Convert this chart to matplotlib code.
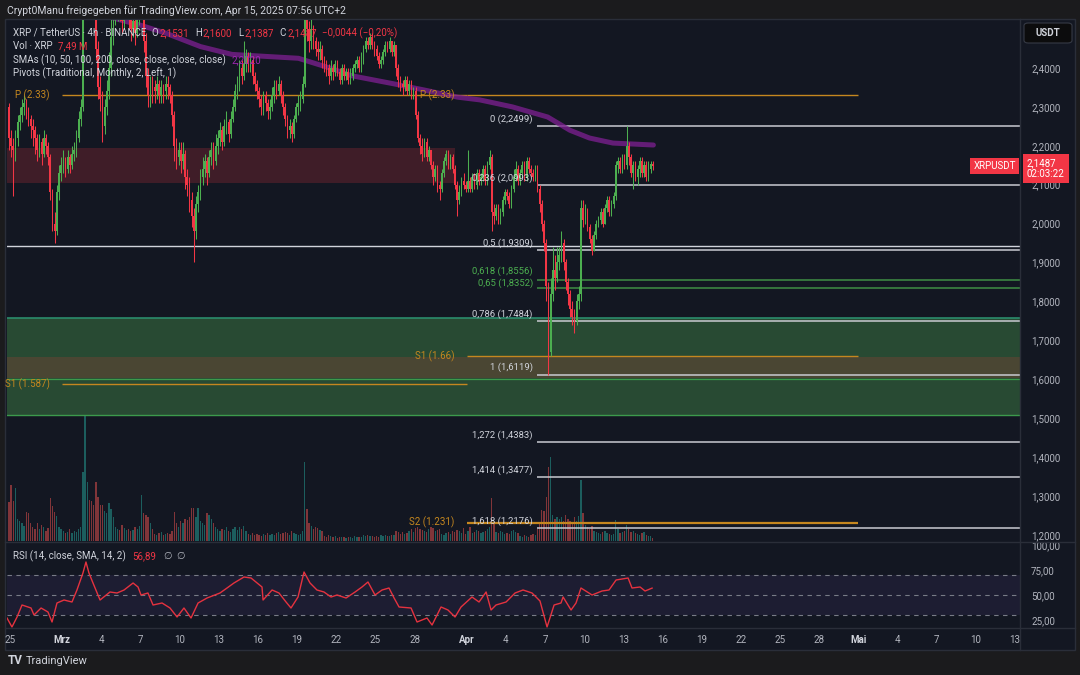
import matplotlib
matplotlib.use("Agg")
import matplotlib.pyplot as plt
from matplotlib.lines import Line2D
from matplotlib.patches import Rectangle, FancyBboxPatch
from matplotlib.colors import to_rgba
import numpy as np
import pandas as pd

plt.rcParams['font.family'] = ['Roboto', 'DejaVu Sans']

# ---------------- data ----------------
first_open = 2.30
closes = [
    2.22,                                   # Feb 24 22:00
    2.20, 2.19, 2.22, 2.26, 2.28, 2.30,     # Feb 25
    2.31, 2.29, 2.27, 2.25, 2.24, 2.22,     # Feb 26
    2.19, 2.21, 2.18, 2.22, 2.20, 2.17,     # Feb 27
    2.08, 2.00, 1.98, 2.08, 2.13, 2.15,     # Feb 28
    2.16, 2.14, 2.17, 2.15, 2.18, 2.19,     # Mar 1
    2.22, 2.27, 2.30, 2.75, 2.85, 2.88,     # Mar 2
    2.82, 2.70, 2.62, 2.45, 2.35, 2.32,     # Mar 3
    2.25, 2.30, 2.34, 2.40, 2.48, 2.55,     # Mar 4
    2.55, 2.58, 2.54, 2.52, 2.56, 2.57,     # Mar 5
    2.53, 2.50, 2.52, 2.49, 2.53, 2.55,     # Mar 6
    2.58, 2.47, 2.38, 2.33, 2.36, 2.35,     # Mar 7
    2.34, 2.36, 2.33, 2.35, 2.34, 2.36,     # Mar 8
    2.35, 2.33, 2.28, 2.20, 2.17, 2.19,     # Mar 9
    2.16, 2.18, 2.12, 2.10, 2.06, 2.02,     # Mar 10
    1.98, 2.05, 2.08, 2.12, 2.14, 2.16,     # Mar 11
    2.13, 2.17, 2.19, 2.16, 2.20, 2.22,     # Mar 12
    2.24, 2.21, 2.25, 2.26, 2.23, 2.27,     # Mar 13
    2.30, 2.34, 2.36, 2.40, 2.38, 2.41,     # Mar 14
    2.43, 2.41, 2.42, 2.38, 2.36, 2.34,     # Mar 15
    2.32, 2.30, 2.33, 2.31, 2.29, 2.30,     # Mar 16
    2.33, 2.35, 2.34, 2.36, 2.33, 2.30,     # Mar 17
    2.27, 2.24, 2.25, 2.23, 2.27, 2.30,     # Mar 18
    2.31, 2.32, 2.36, 2.55, 2.50, 2.47,     # Mar 19
    2.50, 2.47, 2.45, 2.44, 2.45, 2.42,     # Mar 20
    2.41, 2.40, 2.38, 2.40, 2.39, 2.41,     # Mar 21
    2.39, 2.37, 2.40, 2.38, 2.39, 2.37,     # Mar 22
    2.38, 2.40, 2.41, 2.42, 2.40, 2.42,     # Mar 23
    2.45, 2.47, 2.46, 2.48, 2.46, 2.45,     # Mar 24
    2.43, 2.41, 2.42, 2.44, 2.46, 2.45,     # Mar 25
    2.47, 2.44, 2.46, 2.40, 2.37, 2.36,     # Mar 26
    2.35, 2.37, 2.34, 2.36, 2.33, 2.34,     # Mar 27
    2.28, 2.22, 2.20, 2.18, 2.21, 2.17,     # Mar 28
    2.19, 2.15, 2.12, 2.14, 2.10, 2.09,     # Mar 29
    2.13, 2.16, 2.18, 2.15, 2.17, 2.14,     # Mar 30
    2.10, 2.06, 2.08, 2.11, 2.10, 2.09,     # Mar 31
    2.11, 2.09, 2.12, 2.10, 2.13, 2.11,     # Apr 1
    2.12, 2.14, 2.11, 2.15, 2.17, 2.03,     # Apr 2
    2.02, 2.04, 2.01, 2.03, 2.06, 2.08,     # Apr 3
    2.07, 2.05, 2.09, 2.12, 2.14, 2.11,     # Apr 4
    2.13, 2.15, 2.12, 2.16, 2.14, 2.13,     # Apr 5
    2.12, 2.14, 2.09, 2.05, 2.00, 1.95,     # Apr 6
    1.84, 1.67, 1.82, 1.88, 1.86, 1.90,     # Apr 7
    1.92, 1.95, 1.90, 1.85, 1.82, 1.78,     # Apr 8
    1.76, 1.75, 1.80, 1.82, 2.04, 2.01,     # Apr 9
    2.03, 1.99, 1.96, 1.93, 1.97, 2.00,     # Apr 10
    2.01, 2.03, 2.00, 2.04, 2.06, 2.03,     # Apr 11
    2.05, 2.07, 2.15, 2.16, 2.14, 2.17,     # Apr 12
    2.15, 2.20, 2.17, 2.13, 2.15, 2.12,     # Apr 13
    2.14, 2.16, 2.13, 2.15, 2.12, 2.14,     # Apr 14
    2.1531, 2.1487,                         # Apr 15
]
highs = [
    2.31,
    2.24, 2.22, 2.24, 2.28, 2.30, 2.32,     # Feb 25
    2.33, 2.32, 2.30, 2.28, 2.27, 2.25,     # Feb 26
    2.23, 2.23, 2.22, 2.24, 2.23, 2.21,     # Feb 27
    2.18, 2.09, 2.03, 2.10, 2.15, 2.17,     # Feb 28
    2.19, 2.17, 2.19, 2.18, 2.20, 2.21,     # Mar 1
    2.24, 2.29, 2.32, 2.80, 2.95, 2.99,     # Mar 2
    2.92, 2.84, 2.73, 2.64, 2.47, 2.38,     # Mar 3
    2.34, 2.32, 2.37, 2.44, 2.53, 2.58,     # Mar 4
    2.60, 2.61, 2.59, 2.56, 2.58, 2.60,     # Mar 5
    2.58, 2.54, 2.55, 2.53, 2.56, 2.58,     # Mar 6
    2.62, 2.60, 2.49, 2.40, 2.38, 2.38,     # Mar 7
    2.37, 2.38, 2.37, 2.37, 2.36, 2.38,     # Mar 8
    2.38, 2.36, 2.34, 2.29, 2.22, 2.21,     # Mar 9
    2.21, 2.21, 2.19, 2.14, 2.12, 2.08,     # Mar 10
    2.04, 2.07, 2.10, 2.14, 2.17, 2.18,     # Mar 11
    2.17, 2.19, 2.21, 2.21, 2.23, 2.24,     # Mar 12
    2.26, 2.25, 2.27, 2.29, 2.27, 2.29,     # Mar 13
    2.32, 2.36, 2.38, 2.42, 2.42, 2.47,     # Mar 14
    2.45, 2.44, 2.44, 2.43, 2.39, 2.37,     # Mar 15
    2.35, 2.33, 2.34, 2.34, 2.32, 2.32,     # Mar 16
    2.35, 2.37, 2.37, 2.38, 2.37, 2.34,     # Mar 17
    2.31, 2.28, 2.27, 2.26, 2.28, 2.31,     # Mar 18
    2.33, 2.34, 2.38, 2.59, 2.58, 2.52,     # Mar 19
    2.53, 2.51, 2.48, 2.47, 2.47, 2.46,     # Mar 20
    2.43, 2.42, 2.41, 2.42, 2.41, 2.42,     # Mar 21
    2.42, 2.40, 2.41, 2.41, 2.40, 2.40,     # Mar 22
    2.40, 2.41, 2.42, 2.43, 2.43, 2.44,     # Mar 23
    2.46, 2.48, 2.48, 2.49, 2.49, 2.47,     # Mar 24
    2.46, 2.44, 2.43, 2.45, 2.47, 2.47,     # Mar 25
    2.48, 2.47, 2.47, 2.46, 2.41, 2.38,     # Mar 26
    2.37, 2.38, 2.38, 2.37, 2.37, 2.35,     # Mar 27
    2.35, 2.29, 2.23, 2.22, 2.22, 2.22,     # Mar 28
    2.20, 2.19, 2.16, 2.15, 2.15, 2.11,     # Mar 29
    2.14, 2.17, 2.19, 2.19, 2.18, 2.18,     # Mar 30
    2.15, 2.11, 2.10, 2.12, 2.13, 2.11,     # Mar 31
    2.19, 2.12, 2.13, 2.13, 2.14, 2.14,     # Apr 1
    2.13, 2.15, 2.15, 2.16, 2.19, 2.18,     # Apr 2
    2.05, 2.05, 2.05, 2.04, 2.07, 2.09,     # Apr 3
    2.09, 2.08, 2.10, 2.14, 2.16, 2.15,     # Apr 4
    2.14, 2.16, 2.16, 2.17, 2.17, 2.15,     # Apr 5
    2.14, 2.15, 2.15, 2.10, 2.06, 2.01,     # Apr 6
    1.96, 1.85, 1.86, 1.94, 1.92, 1.94,     # Apr 7
    1.94, 1.98, 1.96, 1.91, 1.86, 1.83,     # Apr 8
    1.80, 1.78, 1.82, 1.84, 2.06, 2.06,     # Apr 9
    2.05, 2.04, 2.00, 1.97, 1.98, 2.01,     # Apr 10
    2.02, 2.04, 2.04, 2.05, 2.07, 2.07,     # Apr 11
    2.06, 2.08, 2.16, 2.17, 2.17, 2.18,     # Apr 12
    2.18, 2.25, 2.21, 2.18, 2.16, 2.16,     # Apr 13
    2.15, 2.17, 2.17, 2.16, 2.16, 2.16,     # Apr 14
    2.16, 2.16,                             # Apr 15
]
lows = [
    2.19,
    2.17, 2.07, 2.16, 2.20, 2.24, 2.26,     # Feb 25
    2.28, 2.27, 2.25, 2.22, 2.20, 2.18,     # Feb 26
    2.16, 2.17, 2.15, 2.17, 2.18, 2.15,     # Feb 27
    2.06, 1.98, 1.95, 1.97, 2.06, 2.11,     # Feb 28
    2.13, 2.12, 2.13, 2.13, 2.14, 2.16,     # Mar 1
    2.17, 2.21, 2.25, 2.29, 2.72, 2.80,     # Mar 2
    2.78, 2.66, 2.58, 2.42, 2.32, 2.29,     # Mar 3
    2.21, 2.23, 2.28, 2.32, 2.38, 2.46,     # Mar 4
    2.51, 2.52, 2.52, 2.49, 2.50, 2.54,     # Mar 5
    2.50, 2.47, 2.48, 2.46, 2.48, 2.51,     # Mar 6
    2.53, 2.44, 2.35, 2.30, 2.30, 2.31,     # Mar 7
    2.31, 2.32, 2.31, 2.31, 2.31, 2.32,     # Mar 8
    2.32, 2.31, 2.25, 2.16, 2.14, 2.15,     # Mar 9
    2.13, 2.14, 2.09, 2.07, 2.03, 1.99,     # Mar 10
    1.90, 1.96, 2.03, 2.06, 2.10, 2.12,     # Mar 11
    2.10, 2.12, 2.15, 2.14, 2.15, 2.18,     # Mar 12
    2.20, 2.19, 2.20, 2.23, 2.21, 2.22,     # Mar 13
    2.26, 2.29, 2.32, 2.34, 2.36, 2.37,     # Mar 14
    2.39, 2.39, 2.39, 2.36, 2.34, 2.32,     # Mar 15
    2.30, 2.28, 2.28, 2.29, 2.27, 2.27,     # Mar 16
    2.29, 2.31, 2.32, 2.33, 2.31, 2.28,     # Mar 17
    2.25, 2.22, 2.22, 2.21, 2.22, 2.26,     # Mar 18
    2.28, 2.29, 2.31, 2.35, 2.47, 2.44,     # Mar 19
    2.45, 2.45, 2.43, 2.42, 2.42, 2.40,     # Mar 20
    2.39, 2.38, 2.36, 2.37, 2.37, 2.38,     # Mar 21
    2.38, 2.36, 2.36, 2.37, 2.37, 2.36,     # Mar 22
    2.36, 2.37, 2.39, 2.40, 2.39, 2.39,     # Mar 23
    2.41, 2.44, 2.45, 2.45, 2.45, 2.43,     # Mar 24
    2.42, 2.40, 2.40, 2.41, 2.43, 2.44,     # Mar 25
    2.44, 2.43, 2.43, 2.38, 2.35, 2.34,     # Mar 26
    2.33, 2.34, 2.33, 2.33, 2.32, 2.32,     # Mar 27
    2.27, 2.21, 2.18, 2.16, 2.17, 2.16,     # Mar 28
    2.16, 2.14, 2.10, 2.11, 2.08, 2.06,     # Mar 29
    2.08, 2.12, 2.15, 2.14, 2.14, 2.13,     # Mar 30
    2.09, 2.02, 2.05, 2.07, 2.09, 2.08,     # Mar 31
    2.08, 2.08, 2.08, 2.09, 2.09, 2.10,     # Apr 1
    2.10, 2.11, 2.10, 2.10, 2.14, 1.98,     # Apr 2
    2.00, 2.01, 2.00, 2.00, 2.02, 2.05,     # Apr 3
    2.06, 2.04, 2.04, 2.08, 2.11, 2.10,     # Apr 4
    2.10, 2.12, 2.11, 2.11, 2.13, 2.12,     # Apr 5
    2.11, 2.11, 2.08, 2.03, 1.98, 1.93,     # Apr 6
    1.80, 1.61, 1.66, 1.80, 1.83, 1.85,     # Apr 7
    1.88, 1.90, 1.88, 1.83, 1.79, 1.76,     # Apr 8
    1.74, 1.72, 1.74, 1.78, 1.80, 1.99,     # Apr 9
    2.00, 1.98, 1.95, 1.92, 1.93, 1.96,     # Apr 10
    1.99, 2.00, 1.99, 2.00, 2.03, 2.02,     # Apr 11
    2.02, 2.04, 2.06, 2.13, 2.13, 2.13,     # Apr 12
    2.14, 2.14, 2.15, 2.12, 2.09, 2.11,     # Apr 13
    2.10, 2.12, 2.12, 2.12, 2.11, 2.11,     # Apr 14
    2.13, 2.1387,                           # Apr 15
]
# volume in millions XRP
volumes = [
    98,
    140, 100, 132, 55, 50, 45,      # Feb 25
    38, 72, 70, 45, 35, 30,         # Feb 26
    45, 30, 40, 35, 25, 32,         # Feb 27
    108, 88, 72, 62, 35, 30,        # Feb 28
    25, 20, 22, 30, 20, 25,         # Mar 1
    22, 30, 35, 172, 322, 148,      # Mar 2
    103, 100, 90, 148, 110, 90,     # Mar 3
    90, 75, 70, 95, 80, 60,         # Mar 4
    35, 30, 28, 40, 32, 28,         # Mar 5
    30, 25, 28, 35, 30, 38,         # Mar 6
    115, 70, 65, 60, 45, 30,        # Mar 7
    18, 15, 20, 22, 15, 18,         # Mar 8
    20, 18, 25, 72, 45, 35,         # Mar 9
    50, 45, 55, 52, 60, 82,         # Mar 10
    82, 60, 82, 50, 45, 40,         # Mar 11
    70, 65, 55, 45, 35, 30,         # Mar 12
    25, 30, 28, 35, 25, 22,         # Mar 13
    30, 35, 28, 35, 30, 38,         # Mar 14
    25, 18, 15, 20, 15, 18,         # Mar 15
    15, 12, 18, 15, 20, 14,         # Mar 16
    18, 15, 20, 22, 18, 20,         # Mar 17
    22, 20, 15, 25, 20, 18,         # Mar 18
    15, 18, 25, 198, 80, 45,        # Mar 19
    38, 30, 35, 32, 28, 25,         # Mar 20
    12, 10, 14, 12, 10, 12,         # Mar 21
    8, 10, 9, 11, 8, 10,            # Mar 22
    10, 8, 12, 9, 11, 10,           # Mar 23
    14, 12, 15, 13, 12, 10,         # Mar 24
    12, 10, 14, 12, 15, 13,         # Mar 25
    12, 15, 14, 25, 22, 18,         # Mar 26
    22, 18, 20, 25, 30, 22,         # Mar 27
    32, 35, 30, 28, 25, 22,         # Mar 28
    30, 35, 32, 25, 28, 30,         # Mar 29
    18, 15, 20, 22, 18, 25,         # Mar 30
    22, 28, 25, 20, 32, 18,         # Mar 31
    25, 35, 20, 22, 28, 25,         # Apr 1
    20, 22, 25, 30, 35, 108,        # Apr 2
    45, 22, 20, 25, 22, 18,         # Apr 3
    20, 18, 25, 28, 22, 20,         # Apr 4
    12, 10, 14, 12, 10, 15,         # Apr 5
    18, 15, 30, 45, 78, 75,         # Apr 6
    110, 185, 210, 65, 55, 60,      # Apr 7
    55, 60, 50, 65, 55, 50,         # Apr 8
    45, 60, 50, 62, 152, 70,        # Apr 9
    40, 35, 30, 38, 25, 22,         # Apr 10
    20, 18, 22, 25, 20, 18,         # Apr 11
    15, 18, 52, 30, 20, 22,         # Apr 12
    25, 40, 30, 22, 25, 20,         # Apr 13
    18, 15, 20, 22, 15, 12,         # Apr 14
    12, 7.49,                       # Apr 15
]

# SMA 200 (days since Feb 25 00:00)
sma_days = [7.7, 10.0, 11.9, 14.6, 17.0, 19.5, 22.1, 24.5, 26.2, 29.3,
            31.8, 34.3, 36.0, 38.5, 41.2, 42.9, 44.4, 46.2, 49.3]
sma_vals = [2.53, 2.51, 2.49, 2.455, 2.435, 2.43, 2.425, 2.40, 2.38, 2.36,
            2.343, 2.325, 2.318, 2.30, 2.274, 2.24, 2.22, 2.207, 2.202]

# RSI(14)
rsi_days = [-0.23, 0.15, 0.54, 0.92, 1.61, 1.84, 2.38, 2.91, 3.22, 3.60,
            4.14, 4.75, 5.13, 5.59, 5.82, 6.05, 6.36, 6.90, 7.66, 8.20,
            8.74, 9.43, 9.81, 10.04, 10.57, 10.96, 11.65, 12.26, 12.80, 13.33,
            13.87, 14.41, 15.10, 16.09, 16.63, 17.16, 17.93, 18.47, 19.31, 19.39,
            20.08, 20.61, 21.15, 21.53, 22.07, 22.53, 22.99, 23.52, 24.06, 24.60,
            25.06, 25.75, 26.44, 26.97, 27.43, 27.97, 28.51, 29.04, 29.43, 29.81,
            30.73, 31.19, 31.95, 32.34, 33.03, 33.56, 34.10, 34.56, 35.40, 35.94,
            36.48, 36.86, 37.24, 38.01, 38.70, 39.31, 40.00, 40.61, 41.15, 41.69,
            42.22, 42.38, 42.99, 43.37, 43.75, 44.60, 45.36, 45.90, 46.44, 47.36,
            47.66, 48.28, 48.66, 49.20]
rsi_vals = [27, 18, 28, 40, 37, 30, 37, 33, 23, 42,
            45, 43, 55, 72, 83, 72, 62, 45, 53, 52,
            55, 62, 58, 50, 52, 40, 42, 37, 28, 37,
            27, 42, 47, 52, 57, 62, 68, 67, 58, 45,
            55, 52, 43, 37, 48, 73, 62, 55, 53, 48,
            50, 47, 53, 58, 63, 50, 55, 57, 47, 38,
            37, 23, 27, 20, 38, 35, 28, 38, 48, 43,
            53, 35, 40, 43, 52, 55, 52, 44, 18, 40,
            42, 48, 35, 42, 57, 50, 54, 55, 65, 67,
            57, 58, 54, 56.89]

fib_levels = [0, 0.236, 0.5, 0.618, 0.65, 0.786, 1, 1.272, 1.414, 1.618]
fib_prices = [2.2499, 2.0993, 1.9309, 1.8556, 1.8352, 1.7484, 1.6119, 1.4383, 1.3477, 1.2176]
fib_start = '2025-04-06 09:00'

pivot_names = ['P', 'S1', 'P', 'S1', 'S2']
pivot_values = [2.33, 1.587, 2.33, 1.66, 1.231]
pivot_start = ['2025-03-01', '2025-03-01', '2025-04-01', '2025-04-01', '2025-04-01']
pivot_end = ['2025-04-01', '2025-04-01', '2025-05-01', '2025-05-01', '2025-05-01']

red_zone = (2.104, 2.195)
red_zone_end = '2025-03-31 02:00'
green_zone = (1.508, 1.757)
olive_band = (1.603, 1.657)
support_line = 1.943

price_ticks = [2.4, 2.3, 2.2, 2.1, 2.0, 1.9, 1.8, 1.7, 1.6, 1.5, 1.4, 1.3, 1.2]
rsi_ticks = [25, 50, 75, 100]
date_ticks = ['2025-02-25', '2025-03-01', '2025-03-04', '2025-03-07', '2025-03-10',
              '2025-03-13', '2025-03-16', '2025-03-19', '2025-03-22', '2025-03-25',
              '2025-03-28', '2025-04-01', '2025-04-04', '2025-04-07', '2025-04-10',
              '2025-04-13', '2025-04-16', '2025-04-19', '2025-04-22', '2025-04-25',
              '2025-04-28', '2025-05-01', '2025-05-04', '2025-05-07', '2025-05-10',
              '2025-05-13']
date_labels = ['25', 'Mrz', '4', '7', '10', '13', '16', '19', '22', '25', '28', 'Apr',
               '4', '7', '10', '13', '16', '19', '22', '25', '28', 'Mai', '4', '7', '10', '13']

# ---------------- style ----------------
W, H = 1080, 675
BG = '#131722'
OUTER = '#1b1b1d'
TXT = '#d1d4dc'
AXTXT = '#b2b5be'
GREEN = '#4caf50'
RED = '#f23645'
ORANGE = '#c5871f'
LINE = '#2a2e39'
BASE = pd.Timestamp('2025-02-25 00:00')


def to_day(s):
    return (pd.Timestamp(s) - BASE) / pd.Timedelta(days=1)


def fx(x):
    return x / W


def fy(y):
    return 1 - y / H


fig = plt.figure(figsize=(W / 100, H / 100), dpi=100, facecolor=OUTER)
fig.add_artist(Rectangle((fx(5), fy(650)), fx(1075) - fx(5), fy(19) - fy(650),
                         transform=fig.transFigure, facecolor=BG, edgecolor=LINE,
                         lw=1, zorder=-5))

ax = fig.add_axes([fx(7), fy(541), fx(1020) - fx(7), fy(20) - fy(541)])
ax_vol = ax.twinx()
ax.set_zorder(ax_vol.get_zorder() + 1)
ax.patch.set_visible(False)
ax_vol.set_axis_off()
ax_rsi = fig.add_axes([fx(7), fy(628), fx(1020) - fx(7), fy(542) - fy(628)])
ax_rsi.patch.set_visible(False)

xmin, xmax = -0.23, 77.39
for a in (ax, ax_vol, ax_rsi):
    a.set_xlim(xmin, xmax)
    for sp in a.spines.values():
        sp.set_visible(False)

# ---------------- candles ----------------
times = pd.date_range('2025-02-24 22:00', periods=len(closes), freq='4h')
t = ((times - BASE) / pd.Timedelta(days=1)).to_numpy()
c = np.array(closes)
o = np.array([first_open] + closes[:-1])
hi = np.array(highs)
lo = np.array(lows)
up = c >= o
cols = np.where(up, GREEN, RED)

ax_vol.bar(t, volumes, width=0.1,
           color=[to_rgba('#26a69a', 0.5) if u else to_rgba('#ef5350', 0.5) for u in up],
           linewidth=0)
ax_vol.set_ylim(0, 1302)

ax.set_ylim(1.184, 2.5234)

# zones
ax.fill_between([xmin, to_day(red_zone_end)], red_zone[0], red_zone[1],
                color='#f23645', alpha=0.2, lw=0, zorder=1)
ax.axhspan(green_zone[0], green_zone[1], color='#284a33', lw=0, zorder=1)
ax.axhspan(olive_band[0], olive_band[1], color='#4a4633', lw=0, zorder=1)
ax.axhline(green_zone[1], color='#2b8c6c', lw=1.2, zorder=2)
ax.axhline(green_zone[0], color='#3c9a4c', lw=1.0, zorder=2)
ax.axhline(olive_band[0] - 0.003, color='#3c9a4c', lw=0.9, zorder=2)
ax.axhline(support_line, color=TXT, lw=1.0, zorder=2)

# pivots
for name, val, s, e in zip(pivot_names, pivot_values, pivot_start, pivot_end):
    ax.hlines(val, to_day(s), to_day(e), color=ORANGE, lw=1.6 if name == 'S2' else 1.0, zorder=2)
    ax.annotate(f"{name} ({val:g})", (to_day(s), val), xytext=(-9, 0),
                textcoords='offset points', ha='right', va='center',
                fontsize=7, color=ORANGE, zorder=6, annotation_clip=False)

# fibonacci
fs = to_day(fib_start)
for lvl, p in zip(fib_levels, fib_prices):
    green_lvl = lvl in (0.618, 0.65)
    ax.hlines(p, fs, xmax, color='#3f8f45' if green_lvl else '#c9cbd1',
              lw=1.1, zorder=2)
    lab = f"{lvl:g} ({p:.4f})".replace('.', ',')
    dy = 2.8 if lvl == 0.618 else (-0.2 if lvl == 0.65 else 1.5)
    ax.annotate(lab, (fs, p), xytext=(-3, dy), textcoords='offset points',
                ha='right', va='bottom', fontsize=6.8,
                color='#4caf50' if green_lvl else TXT, zorder=6)

# SMA 200
ax.plot(sma_days, sma_vals, color='#7b1f8e', lw=3.6, alpha=0.78,
        solid_capstyle='round', zorder=3)

ax.vlines(t, lo, hi, colors=cols, lw=0.75, zorder=4)
ax.bar(t, np.abs(c - o), bottom=np.minimum(o, c), width=0.12, color=cols,
       linewidth=0, zorder=5)

ax.set_yticks(price_ticks)
ax.set_yticklabels([f"{v:.4f}".replace('.', ',') for v in price_ticks])
ax.yaxis.tick_right()
ax.tick_params(axis='y', length=0, pad=8, labelsize=7, labelcolor=AXTXT)
ax.tick_params(axis='x', bottom=False, labelbottom=False)

# last price labels
last = closes[-1]
ax.annotate('XRPUSDT', (1, last), xycoords=('axes fraction', 'data'),
            xytext=(-3, 0), textcoords='offset points', ha='right', va='center',
            fontsize=7, color='white', zorder=7,
            bbox=dict(boxstyle='square,pad=0.3', fc=RED, ec='none'))
ax.annotate(f"{last:.4f}".replace('.', ',') + '\n02:03:22', (1, last),
            xycoords=('axes fraction', 'data'), xytext=(5, 5.5),
            textcoords='offset points', ha='left', va='top', fontsize=7,
            color='white', linespacing=1.15, annotation_clip=False, zorder=7,
            bbox=dict(boxstyle='square,pad=0.4', fc=RED, ec='none'))

# ---------------- RSI ----------------
ax_rsi.set_ylim(17, 103)
ax_rsi.axhspan(30, 70, color='#7e57c2', alpha=0.1, lw=0)
for lvl in (70, 50, 30):
    ax_rsi.axhline(lvl, color='#787b86', lw=0.8, ls=(0, (4, 4)))
ax_rsi.plot(rsi_days, rsi_vals, color='#e5323f', lw=1.0)
ax_rsi.set_yticks(rsi_ticks)
ax_rsi.set_yticklabels([f"{v:.2f}".replace('.', ',') for v in rsi_ticks])
ax_rsi.yaxis.tick_right()
ax_rsi.tick_params(axis='y', length=0, pad=8, labelsize=7, labelcolor=AXTXT)
ax_rsi.set_xticks([to_day(d) for d in date_ticks])
ax_rsi.set_xticklabels(date_labels)
ax_rsi.tick_params(axis='x', length=0, pad=5, labelsize=7, labelcolor=AXTXT)
for lab in ax_rsi.get_xticklabels():
    if lab.get_text() in ('Mrz', 'Apr', 'Mai'):
        lab.set_fontweight('bold')
        lab.set_color(TXT)

# separators
for xs, ys in [([1020, 1020], [19, 650]), ([5, 1075], [541.5, 541.5]), ([5, 1075], [628, 628])]:
    fig.add_artist(Line2D([fx(v) for v in xs], [fy(v) for v in ys], color=LINE, lw=1,
                          transform=fig.transFigure))

# ---------------- texts ----------------
fig.text(fx(7), fy(11), "Crypt0Manu freigegeben für TradingView.com, Apr 15, 2025 07:56 UTC+2",
         color=TXT, fontsize=7.5, va='center')

renderer = fig.canvas.get_renderer()


def text_run(x, y, parts, size=7):
    for s, col, gap in parts:
        tx = fig.text(fx(x), fy(y), s, color=col, fontsize=size, va='center', ha='left')
        x = tx.get_window_extent(renderer).x1 + gap


lo_last, hi_last, op_last = lows[-1], highs[-1], o[-1]
chg = last - op_last
fmt = lambda v: f"{v:.4f}".replace('.', ',')
text_run(13, 33, [("XRP / TetherUS · 4h · BINANCE", TXT, 5),
                  ("O", TXT, 1), (fmt(op_last), RED, 6),
                  ("H", TXT, 1), (fmt(hi_last), RED, 6),
                  ("L", TXT, 1), (fmt(lo_last), RED, 6),
                  ("C", TXT, 1), (fmt(last), RED, 5),
                  (f"−{abs(chg):.4f} (−{abs(chg) / op_last * 100:.2f}%)".replace('.', ','), RED, 0)])
text_run(13, 46, [("Vol · XRP", TXT, 5), ("7,49 M", RED, 0)])
text_run(13, 60, [("SMAs (10, 50, 100, 200, close, close, close, close)", TXT, 6),
                  (fmt(sma_vals[-1]), '#9c27b0', 0)])
text_run(13, 73, [("Pivots (Traditional, Monthly, 2, Left, 1)", TXT, 0)])
text_run(13, 556, [("RSI (14, close, SMA, 14, 2)", TXT, 6),
                   (f"{rsi_vals[-1]:.2f}".replace('.', ','), RED, 7),
                   ("∅", AXTXT, 5), ("∅", AXTXT, 0)])

fig.add_artist(FancyBboxPatch((fx(1024), fy(43)), fx(1072) - fx(1024), fy(23) - fy(43),
                              boxstyle='round,pad=0,rounding_size=0.004',
                              transform=fig.transFigure, fc='#0c0c0d', ec='#363a45', lw=0.8))
fig.text(fx(1048), fy(33), 'USDT', ha='center', va='center', fontsize=7,
         color=TXT, fontweight='bold')

fig.text(fx(8), fy(661), 'TV', fontsize=8.5, fontweight='bold', color=TXT, va='center')
fig.text(fx(26), fy(661), 'TradingView', fontsize=8, color=TXT, va='center')

fig.savefig('out.png', dpi=100, facecolor=fig.get_facecolor())
